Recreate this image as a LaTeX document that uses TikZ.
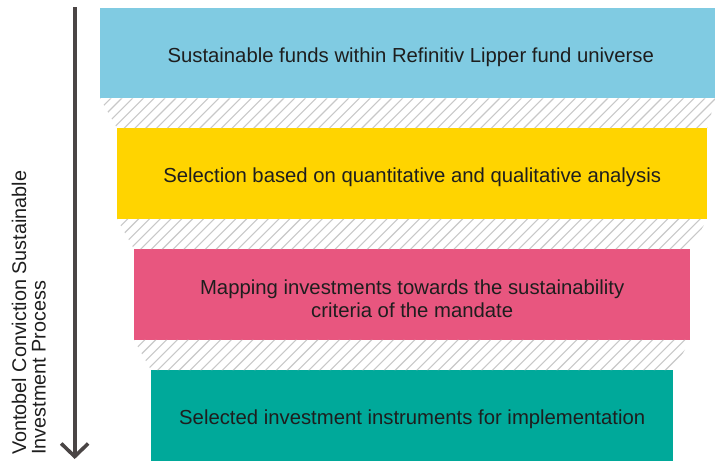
\documentclass[tikz,border=0pt]{standalone}
\usepackage{fontspec}
\setmainfont{Liberation Sans}
\usetikzlibrary{arrows.meta}
\definecolor{cblue}{HTML}{80CBE2}
\definecolor{cyellow}{HTML}{FFD400}
\definecolor{cpink}{HTML}{E8567F}
\definecolor{cteal}{HTML}{00A99A}
\definecolor{ctext}{HTML}{1E1E1E}
\definecolor{carrow}{HTML}{4A4545}
\definecolor{chatch}{HTML}{C8C8C8}
\tikzset{
  stage/.style={draw=none, anchor=north west, inner sep=0pt, minimum height=90.5pt},
  stagetext/.style={inner sep=0pt, align=center, text=ctext,
    font=\fontsize{20.3}{23}\selectfont},
  hatchline/.style={draw=chatch, line width=1.1pt},
  flowarrow/.style={draw=carrow, line width=3.8pt,
    -{Straight Barb[length=13pt, width=27pt, line width=3.6pt]}},
  sidelabel/.style={rotate=90, anchor=north west, align=left, inner sep=0pt,
    text=ctext, font=\fontsize{19.8}{19.5}\selectfont}
}
\begin{document}
\begin{tikzpicture}[x=1pt,y=-1pt]
\useasboundingbox (0,0) rectangle (715,461);

\node[stage, fill=cblue,   minimum width=615pt] (b1) at (100,7.5) {};
\node[stage, fill=cyellow, minimum width=590pt] (b2) at (117,128) {};
\node[stage, fill=cpink,   minimum width=556pt] (b3) at (134,249) {};
\node[stage, fill=cteal,   minimum width=522pt] (b4) at (151,370) {};

\node[stagetext] (t1) at ([xshift=3pt, yshift=-4pt]b1.center) {Sustainable funds within Refinitiv Lipper fund universe};
\node[stagetext] (t2) at ([yshift=-4pt]b2.center) {Selection based on quantitative and qualitative analysis};
\node[stagetext] (t3) at ([yshift=-4pt]b3.center) {Mapping investments towards the sustainability\\criteria of the mandate};
\node[stagetext] (t4) at ([yshift=-4pt]b4.center) {Selected investment instruments for implementation};

\foreach \u/\l in {b1/b2, b2/b3, b3/b4}{
  \begin{scope}
    \clip (\u.south west) -- (\u.south east) -- (\l.north east) -- (\l.north west) -- cycle;
    \path (\u.south west) coordinate (hs);
    \foreach \i in {0,...,66}{
      \draw[hatchline] ([xshift=\i*10.8pt-40pt, yshift=-40pt]hs) -- ++(50,-50);
    }
  \end{scope}
}

\coordinate (atop) at (74.7,7);
\coordinate (abot) at (74.7,459);
\draw[flowarrow] (atop) -- (abot);

\node[sidelabel] (lbl) at (11.5,455) {Vontobel Conviction Sustainable\\Investment Process};
\end{tikzpicture}
\end{document}
